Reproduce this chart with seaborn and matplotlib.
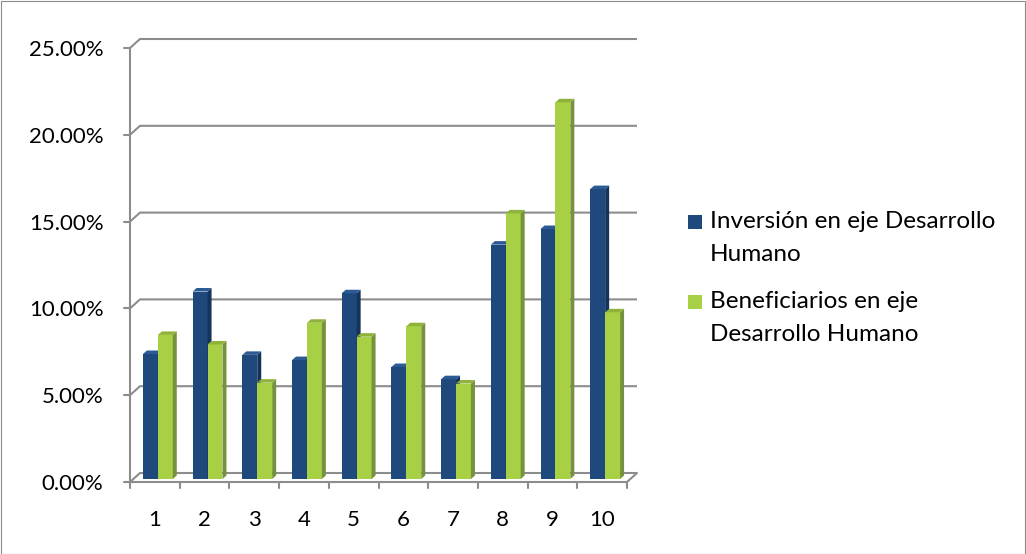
import numpy as np
import pandas as pd
import matplotlib.pyplot as plt
import seaborn as sns
from matplotlib.patches import Polygon, Rectangle

# Data (percent)
categories = ["1", "2", "3", "4", "5", "6", "7", "8", "9", "10"]
inversion = [7.2, 10.8, 7.15, 6.85, 10.7, 6.45, 5.75, 13.5, 14.4, 16.7]
beneficiarios = [8.3, 7.75, 5.55, 9.0, 8.2, 8.8, 5.5, 15.3, 21.7, 9.6]
series_names = ["Inversión en eje Desarrollo Humano",
                "Beneficiarios en eje Desarrollo Humano"]
legend_labels = ["Inversión en eje Desarrollo\nHumano",
                 "Beneficiarios en eje\nDesarrollo Humano"]
y_ticks = [0, 5, 10, 15, 20, 25]

front_colors = ["#1F497D", "#A7D044"]
side_colors = ["#15345B", "#76923C"]
top_colors = ["#2B5A94", "#8FB33A"]
grid_color = "#8C8C8C"

sns.set_theme(style="white")
plt.rcParams["font.family"] = ["Lato", "DejaVu Sans"]

df = pd.DataFrame({
    "cat": categories * 2,
    "value": inversion + beneficiarios,
    "serie": [series_names[0]] * len(categories) + [series_names[1]] * len(categories),
})

fig = plt.figure(figsize=(10.26, 5.54), dpi=100)
W, H = 1026, 554
ax = fig.add_axes([130 / W, (H - 482) / H, (627 - 130) / W, (482 - 48) / H])

sns.barplot(data=df, x="cat", y="value", hue="serie", order=categories,
            hue_order=series_names, palette=front_colors, width=0.6,
            gap=0, saturation=1, legend=False, ax=ax)

ax.set_xlim(-0.5, len(categories) - 0.5)
ax.set_ylim(0, 25)
for s in ax.spines.values():
    s.set_visible(False)
ax.set_xlabel("")
ax.set_ylabel("")

# pixel -> data conversion
bb = ax.get_window_extent()
ux = (len(categories)) / bb.width
uy = 25 / bb.height

# back wall offset and bar depth
bx, by = 10 * ux, 9 * uy
shx, shy = 3 * ux, 3 * uy
dx, dy = 4 * ux, 3.5 * uy

x0, x1 = -0.5, len(categories) - 0.5
lw = 1.5
# gridlines on the back wall with slanted left edge
for v in y_ticks:
    ax.plot([x0, x0 + bx, x1 + bx], [v, v + by, v + by], color=grid_color,
            lw=lw, zorder=0.5, clip_on=False, solid_capstyle="butt")
    ax.plot([x0 - 6 * ux, x0], [v, v], color=grid_color, lw=lw,
            zorder=0.5, clip_on=False)
# front axes
ax.plot([x0, x0], [0, 25], color=grid_color, lw=lw, zorder=0.6, clip_on=False)
ax.plot([x0, x1, x1 + bx], [0, 0, by], color=grid_color, lw=lw,
        zorder=0.6, clip_on=False)
for b in np.arange(x0, x1 + 0.01, 1):
    ax.plot([b, b], [0, -6 * uy], color=grid_color, lw=lw, clip_on=False)

# 3D faces on the bars
for i, cont in enumerate(ax.containers):
    z = 2 + i
    for bar in cont:
        bar.set_x(bar.get_x() + shx)
        bar.set_y(shy)
        bar.set_zorder(z)
        bar.set_edgecolor("none")
        xl = bar.get_x()
        xr = xl + bar.get_width()
        yt = shy + bar.get_height()
        side = Polygon([(xr, shy), (xr + dx, shy + dy), (xr + dx, yt + dy), (xr, yt)],
                       closed=True, facecolor=side_colors[i], edgecolor="none",
                       zorder=z + 0.1)
        top = Polygon([(xl, yt), (xl + dx, yt + dy), (xr + dx, yt + dy), (xr, yt)],
                      closed=True, facecolor=top_colors[i], edgecolor="none",
                      zorder=z + 0.1)
        ax.add_patch(side)
        ax.add_patch(top)

ax.set_yticks(y_ticks)
ax.set_yticklabels([f"{v:.2f}%" for v in y_ticks])
ax.tick_params(axis="y", length=0, pad=19, labelsize=16, labelcolor="black")
ax.tick_params(axis="x", length=0, pad=20, labelsize=16, labelcolor="black")

# legend: square aligned with the first line of each wrapped label
legend_rows = [222, 302]
for lab, col, yc in zip(legend_labels, front_colors, legend_rows):
    fig.patches.append(Rectangle((688 / W, 1 - (yc + 7) / H), 14 / W, 14 / H,
                                 transform=fig.transFigure, facecolor=col,
                                 edgecolor="none"))
    fig.text(710 / W, 1 - (yc - 11) / H, lab, ha="left", va="top",
             fontsize=17.5, linespacing=1.7, color="black")

fig.patches.append(Rectangle((0.5 / W, 0.5 / H), 1 - 1.5 / W, 1 - 1.5 / H,
                             transform=fig.transFigure, fill=False,
                             edgecolor="#8C8C8C", lw=0.8))

fig.savefig("out.png", dpi=100)
